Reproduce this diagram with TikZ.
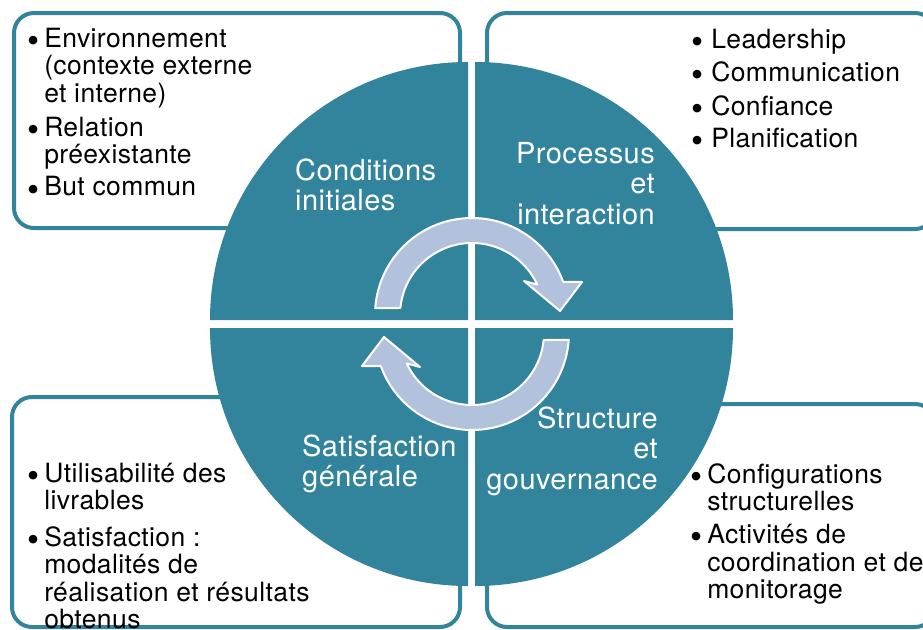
\documentclass[tikz,border=0pt]{standalone}
\usepackage{fontspec}
\usepackage{graphicx}
\setmainfont{TeX Gyre Heros}[LetterSpace=1.5]
\usetikzlibrary{calc}
\definecolor{cycleteal}{RGB}{49,132,155}
\definecolor{arrowblue}{RGB}{179,194,220}
% bullet list: #1 = gap between bullet and text, #2 = rows
\newcommand\pointlist[2]{\begin{tabular}[t]{@{}l@{\hspace{#1}}l@{}}#2\end{tabular}}
\newcommand\blt{\smash{\raisebox{-0.2em}{\scalebox{1.3}{\textbullet}}}}
\begin{document}
\begin{tikzpicture}[x=1pt,y=-1pt,
  panel/.style={draw=cycleteal, line width=4pt, rounded corners=20pt, fill=white, inner sep=0pt},
  quadrant/.style={fill=cycleteal},
  cyclearrow/.style={fill=arrowblue, draw=white, line width=2pt, line join=round},
  listtext/.style={anchor=base west, inner sep=0pt, text=black, font=\fontsize{26.5}{27.5}\selectfont},
  phase/.style={inner sep=0pt, text=white, font=\fontsize{29}{30.5}\selectfont}]
\useasboundingbox (0,0) rectangle (923,629);

% four text panels behind the wheel
\node[panel, minimum width=446pt, minimum height=215pt] (pTL) at (237,120.5) {};
\node[panel, minimum width=448pt, minimum height=216pt] (pTR) at (711,121) {};
\node[panel, minimum width=448pt, minimum height=230pt] (pBL) at (236,512) {};
\node[panel, minimum width=448pt, minimum height=223pt] (pBR) at (711,515.5) {};

% wheel made of four quarter discs
\fill[quadrant] (468,320) -- ++(180:258) arc[start angle=180, end angle=270, radius=258] -- cycle;
\fill[quadrant] (475,320) -- ++(270:258) arc[start angle=270, end angle=360, radius=258] -- cycle;
\fill[quadrant] (468,328) -- ++(90:258) arc[start angle=90, end angle=180, radius=258] -- cycle;
\fill[quadrant] (475,328) -- ++(0:258) arc[start angle=0, end angle=90, radius=258] -- cycle;

% circular arrows
\path[cyclearrow] (472,315) ++(184:97) arc[start angle=184, end angle=340, radius=97]
  -- (582,282) -- (560,311) -- (524,281) -- ($(472,315)+(335:72)$)
  arc[start angle=335, end angle=185.6, radius=72] -- cycle;
\begin{scope}[rotate around={180:(472,324)}]
\path[cyclearrow] (472,315) ++(184:97) arc[start angle=184, end angle=340, radius=97]
  -- (582,282) -- (560,311) -- (524,281) -- ($(472,315)+(335:72)$)
  arc[start angle=335, end angle=185.6, radius=72] -- cycle;
\end{scope}

% phase labels
\node[phase, anchor=base west] (ci) at (295,180)
  {\begin{tabular}[t]{@{}l@{}}Conditions\\initiales\end{tabular}};
\node[phase, anchor=base east] (pi) at (655,163)
  {\begin{tabular}[t]{@{}r@{}}Processus\\et\\interaction\end{tabular}};
\node[phase, anchor=base east] (sg) at (658,428)
  {\begin{tabular}[t]{@{}r@{}}Structure\\et\\gouvernance\end{tabular}};
\node[phase, anchor=base west] (sa) at (302,456)
  {\begin{tabular}[t]{@{}l@{}}Satisfaction\\générale\end{tabular}};

% panel contents
\node[listtext] (lTL) at (27,47) {\pointlist{5pt}{%
  \blt & Environnement\\
       & (contexte externe\\
       & et interne)\\[6.5pt]
  \blt & Relation\\
       & préexistante\\[4.5pt]
  \blt & But commun}};
\node[listtext] (lTR) at (691,48) {\pointlist{8pt}{%
  \blt & Leadership\\[5.5pt]
  \blt & Communication\\[5.5pt]
  \blt & Confiance\\[4.5pt]
  \blt & Planification}};
\node[listtext] (lBL) at (27,482) {\pointlist{5pt}{%
  \blt & Utilisabilité des\\
       & livrables\\[8.5pt]
  \blt & Satisfaction :\\
       & modalités de\\
       & réalisation et résultats\\
       & obtenus}};
\node[listtext] (lBR) at (690,483) {\pointlist{5pt}{%
  \blt & Configurations\\
       & structurelles\\[5.5pt]
  \blt & Activités de\\
       & coordination et de\\
       & monitorage}};
\end{tikzpicture}
\end{document}
